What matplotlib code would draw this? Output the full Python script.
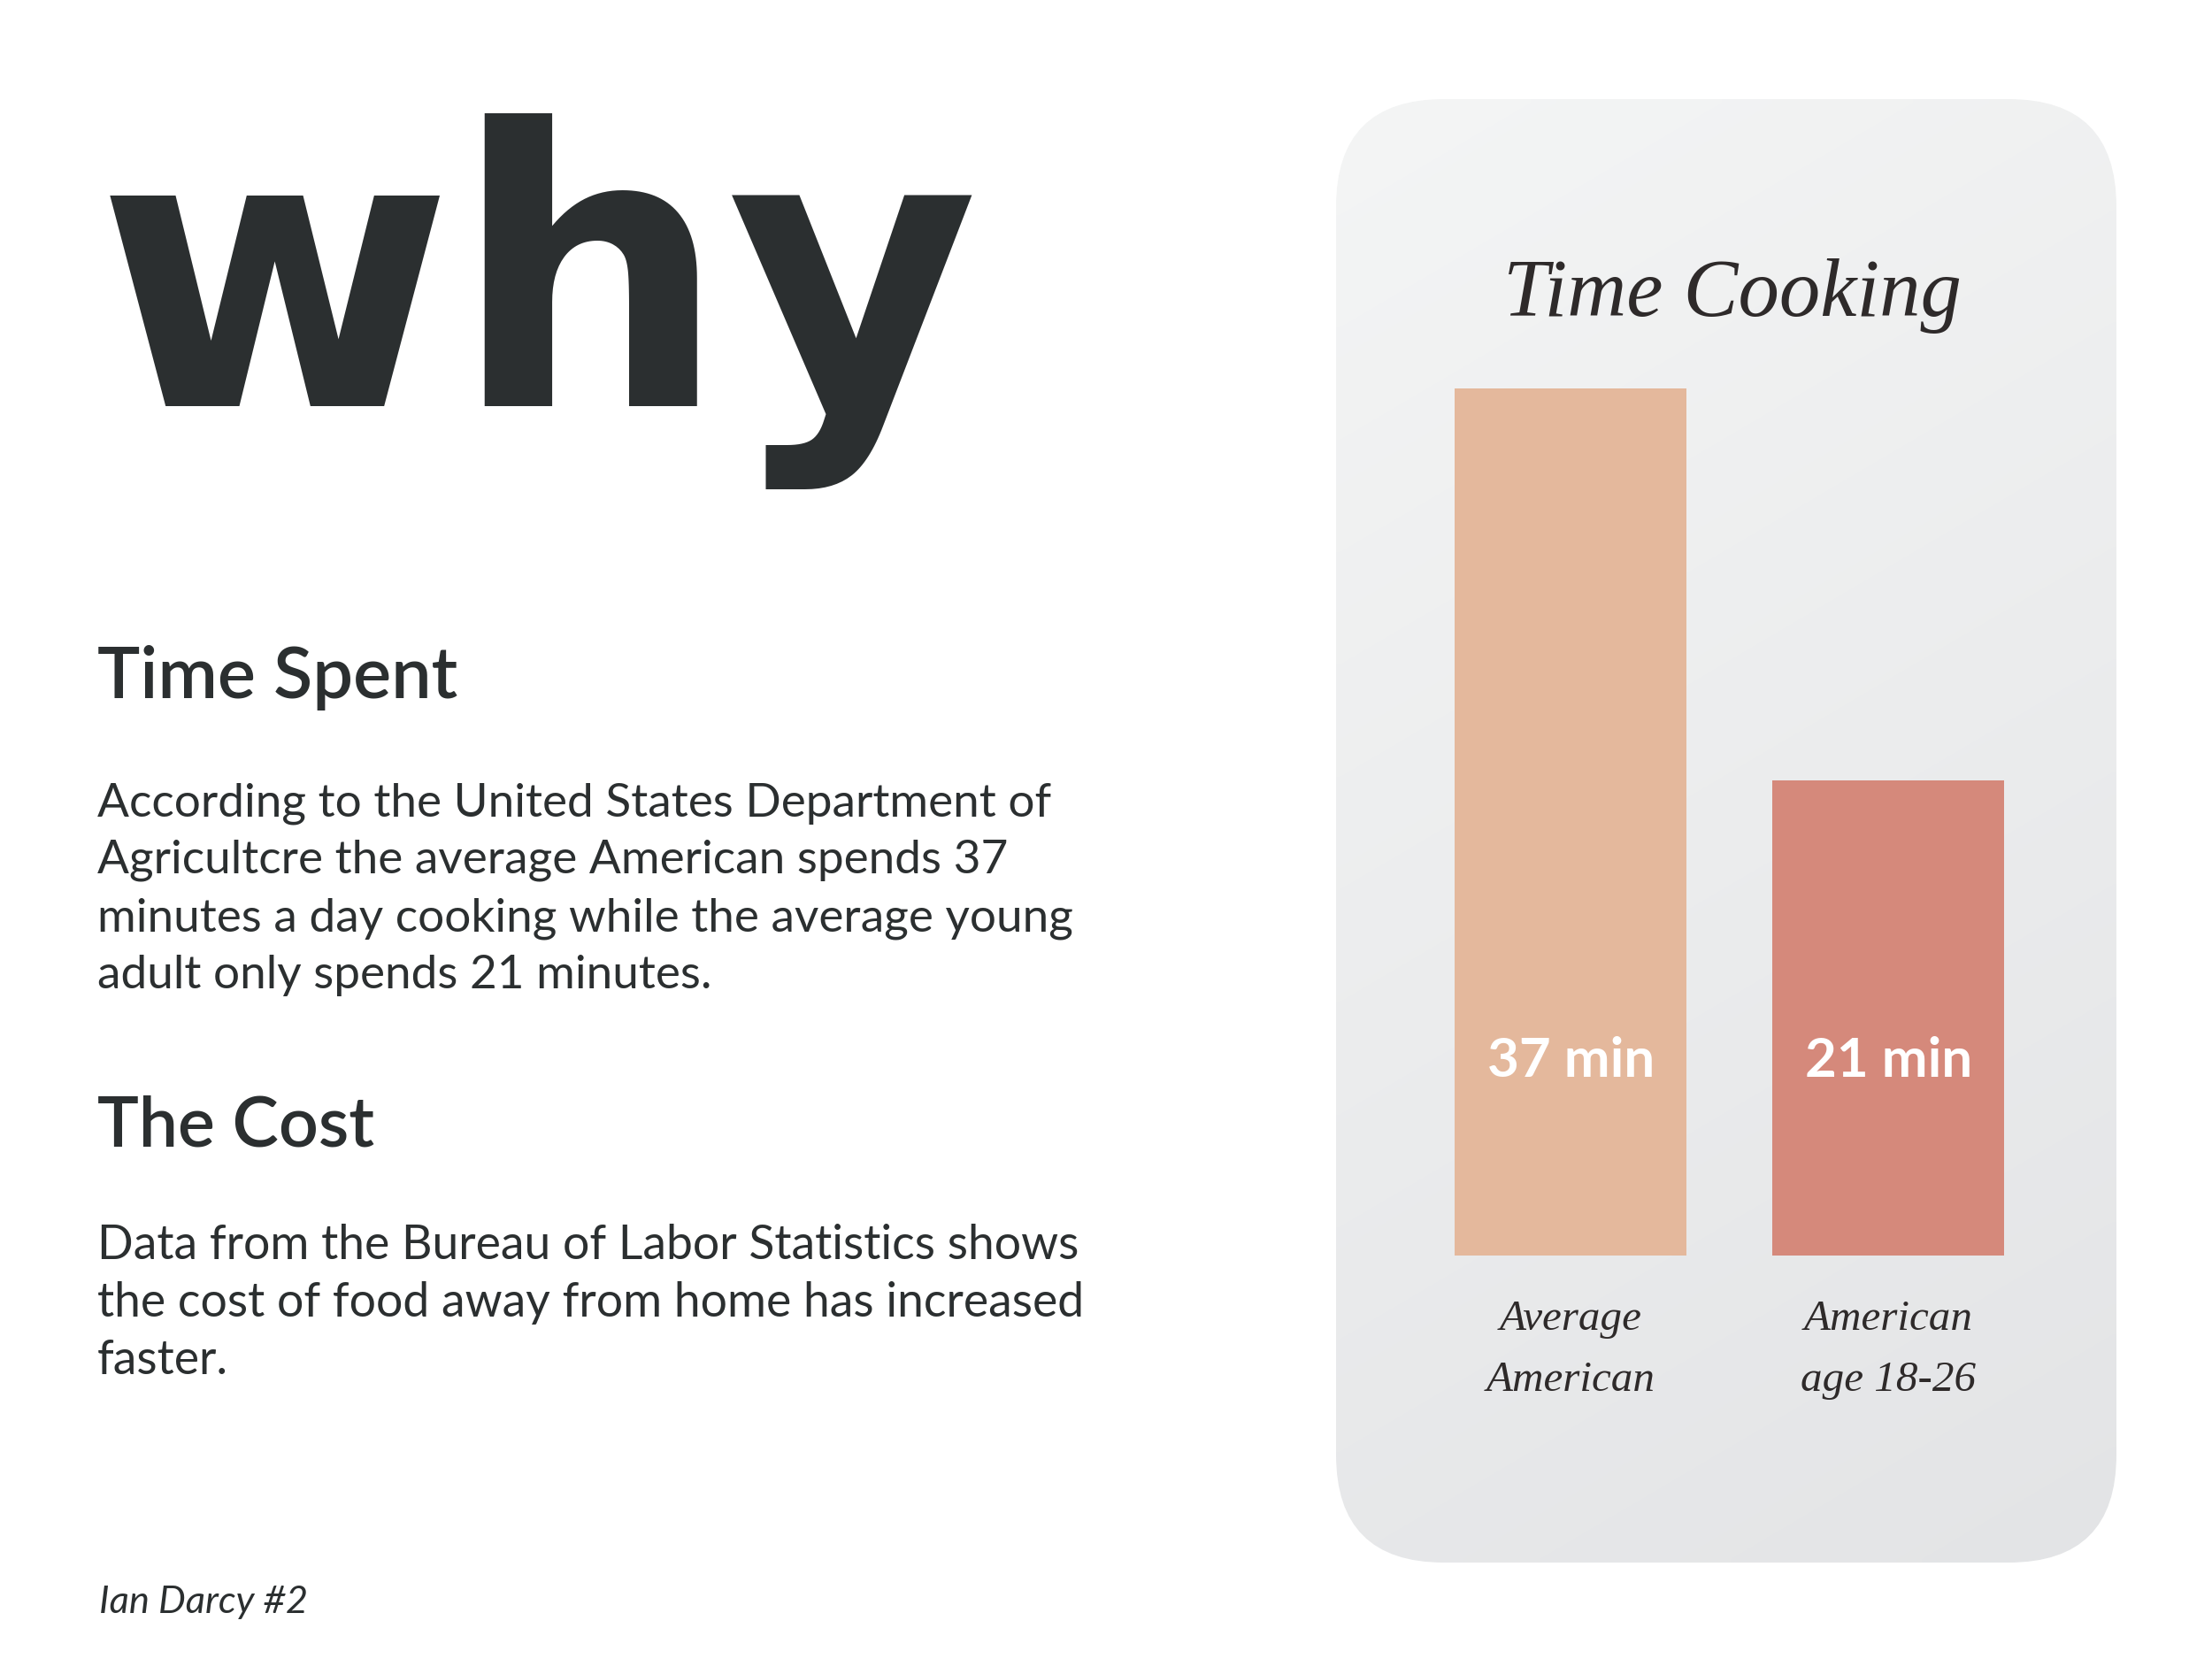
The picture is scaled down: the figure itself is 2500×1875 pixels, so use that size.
import numpy as np
import matplotlib
matplotlib.use("Agg")
import matplotlib.pyplot as plt
from matplotlib.patches import FancyBboxPatch
from matplotlib import transforms

# ---- data ----
categories = ["Average\nAmerican", "American\nage 18-26"]
minutes = [37, 21]
value_labels = ["37 min", "21 min"]
bar_colors = ["#e4b89c", "#d5897b"]

chart_title = "Time Cooking"
big_word = "why"
heading1 = "Time Spent"
para1 = ["According to the United States Department of",
         "Agricultcre the average American spends 37",
         "minutes a day cooking while the average young",
         "adult only spends 21 minutes."]
heading2 = "The Cost"
para2 = ["Data from the Bureau of Labor Statistics shows",
         "the cost of food away from home has increased",
         "faster."]
signature = "Ian Darcy #2"

# ---- figure ----
W, H = 2500, 1875
fig = plt.figure(figsize=(W / 100, H / 100), dpi=100)
fig.patch.set_facecolor("white")
renderer = fig.canvas.get_renderer()

DARK = "#2b2f30"
SANS = ["Lato", "DejaVu Sans"]
SERIF = ["Liberation Serif", "DejaVu Serif"]


def fx(x):
    return x / W


def fy(y):
    return 1 - y / H


def fit_size(txt, target_w, **kw):
    t = fig.text(0, 0, txt, fontsize=100, **kw)
    bb = t.get_window_extent(renderer)
    t.remove()
    return 100 * target_w / bb.width


# canvas axes in pixel coordinates for the card
cv = fig.add_axes([0, 0, 1, 1])
cv.set_xlim(0, W)
cv.set_ylim(H, 0)
cv.axis("off")
cv.set_zorder(0)

cx0, cy0, cx1, cy1 = 1510, 112, 2392, 1766
rad = 122
card = FancyBboxPatch((cx0 + rad, cy0 + rad), (cx1 - cx0) - 2 * rad, (cy1 - cy0) - 2 * rad,
                      boxstyle=f"round,pad={rad},rounding_size={rad}",
                      facecolor="none", edgecolor="none", transform=cv.transData)
cv.add_patch(card)
# diagonal gradient
ny, nx = 200, 120
yy, xx = np.mgrid[0:1:ny * 1j, 0:1:nx * 1j]
tgrad = np.clip(0.8 * yy + 0.25 * xx, 0, 1) / 1.05
c_top = np.array([0xf4, 0xf5, 0xf5]) / 255
c_bot = np.array([0xe3, 0xe4, 0xe6]) / 255
img = c_top[None, None, :] * (1 - tgrad[..., None]) + c_bot[None, None, :] * tgrad[..., None]
im = cv.imshow(img, extent=(cx0, cx1, cy1, cy0), origin="upper", aspect="auto",
               interpolation="bilinear")
im.set_clip_path(card)

# ---- bar chart ----
bx0, bx1 = 1510, 2392
btop, bbot = 439, 1419
ax = fig.add_axes([fx(bx0), fy(bbot), fx(bx1) - fx(bx0), (bbot - btop) / H])
ax.set_zorder(2)
ax.patch.set_alpha(0)
xpos = np.arange(len(minutes))
ax.bar(xpos, minutes, width=0.731, color=bar_colors)
ax.set_xlim(-0.739, 1.718)
ax.set_ylim(1.605, 37)
ax.axis("off")

blend = transforms.blended_transform_factory(ax.transData, fig.transFigure)
vsize = fit_size("21 min", 189, family=SANS, fontweight="bold")
for i, lab in enumerate(value_labels):
    ax.text(xpos[i], fy(1217), lab, transform=blend, ha="center", va="baseline",
            color="white", fontsize=vsize, family=SANS, fontweight="bold", zorder=5)

csize = fit_size("American", 191, family=SERIF, style="italic")
for i, cat in enumerate(categories):
    l1, l2 = cat.split("\n")
    ax.text(xpos[i], fy(1503), l1, transform=blend, ha="center", va="baseline",
            color="#2e2a2a", fontsize=csize, family=SERIF, style="italic", clip_on=False)
    ax.text(xpos[i], fy(1572), l2, transform=blend, ha="center", va="baseline",
            color="#2e2a2a", fontsize=csize, family=SERIF, style="italic", clip_on=False)

tsize = fit_size(chart_title, 518, family=SERIF, style="italic")
fig.text(fx(1699), fy(357), chart_title, ha="left", va="baseline", color="#2e2a2a",
         fontsize=tsize, family=SERIF, style="italic", zorder=5)

# ---- left column text ----
BIG = ["DejaVu Sans"]
s = fit_size(big_word, 998, family=BIG, fontweight="bold")
fig.text(fx(109), fy(459), big_word, ha="left", va="baseline", color=DARK,
         fontsize=s, family=BIG, fontweight="bold")

s = fit_size(heading1, 407, family=SANS, fontweight="semibold")
fig.text(fx(110), fy(789), heading1, ha="left", va="baseline", color=DARK,
         fontsize=s, family=SANS, fontweight="semibold")

s = fit_size(para1[0], 1078, family=SANS)
for line, yb in zip(para1, [923, 987, 1052, 1117]):
    fig.text(fx(110), fy(yb), line, ha="left", va="baseline", color=DARK,
             fontsize=s, family=SANS)

s = fit_size(heading2, 313, family=SANS, fontweight="semibold")
fig.text(fx(110), fy(1295), heading2, ha="left", va="baseline", color=DARK,
         fontsize=s, family=SANS, fontweight="semibold")

s = fit_size(para2[0], 1111, family=SANS)
for line, yb in zip(para2, [1423, 1488, 1553]):
    fig.text(fx(110), fy(yb), line, ha="left", va="baseline", color=DARK,
             fontsize=s, family=SANS)

s = fit_size(signature, 236, family=SANS, fontweight="normal", style="italic")
fig.text(fx(112), fy(1823), signature, ha="left", va="baseline", color=DARK,
         fontsize=s, family=SANS, fontweight="normal", style="italic")

fig.savefig("out.png", dpi=100, facecolor="white")
